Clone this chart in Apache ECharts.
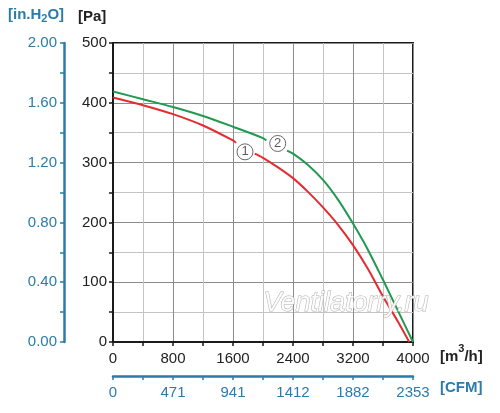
<!DOCTYPE html>
<html>
<head>
<meta charset="utf-8">
<script src="https://cdn.jsdelivr.net/npm/echarts@6.0.0/dist/echarts.min.js"></script>
<style>
html, body { margin: 0; padding: 0; background: #fff; }
#chart { width: 500px; height: 413px; }
</style>
</head>
<body>
<div id="chart"></div>
<script>
// curve 1 (red), split where the circled label sits
var flow1a = [0, 400, 800, 1200, 1600, 1640];
var pa1a = [409, 396, 381, 362, 337, 333];
var flow1b = [1890, 2000, 2200, 2400, 2600, 2800, 3000, 3200, 3400, 3600, 3800, 3950];
var pa1b = [315, 308, 292, 274, 251, 225, 196, 162, 122, 76, 34, 0];

// curve 2 (green)
var flow2a = [0, 400, 800, 1200, 1600, 2000, 2045];
var pa2a = [419, 406, 393, 378, 360, 341, 337];
var flow2b = [2320, 2400, 2600, 2800, 3000, 3200, 3400, 3600, 3800, 4000];
var pa2b = [320, 315, 296, 271, 238, 198, 154, 104, 52, 0];

// curve labels
var tagNames = ['1', '2'];
var tagFlow = [1760, 2196];
var tagPa = [318, 332];

// secondary scales
var cfmMax = 2353;
var inh2oMax = 2.0;

var blue = '#2b7bab';
var font = 'Liberation Sans, Arial, sans-serif';

function pairs(xs, ys) {
	var out = [];
	for (var i = 0; i < xs.length; i++) out.push([xs[i], ys[i]]);
	return out;
}

var chart = echarts.init(document.getElementById('chart'));

var lineStyleRed = { color: '#e52b2f', width: 2 };
var lineStyleGreen = { color: '#1f9a4e', width: 2 };

var option = {
	animation: false,
	textStyle: { fontFamily: font },
	grid: {
		left: 113, right: 87, top: 43, bottom: 71,
		show: true, borderColor: '#1a1a1a', borderWidth: 2
	},
	xAxis: [{
		type: 'value', position: 'bottom', min: 0, max: 4000, interval: 800,
		axisLine: { onZero: false, lineStyle: { color: '#1a1a1a', width: 2 } },
		axisTick: { show: true, length: 4, lineStyle: { color: '#1a1a1a', width: 1.5 } },
		minorTick: { show: true, splitNumber: 2, length: 4, lineStyle: { color: '#1a1a1a', width: 1.5 } },
		axisLabel: {
			color: '#222', fontSize: 15, margin: 9, fontFamily: font,
			formatter: function (v) { return String(v); }
		},
		splitLine: { show: true, lineStyle: { color: '#8c8c8c', width: 1 } },
		minorSplitLine: { show: true, lineStyle: { color: '#c4c4c4', width: 1 } }
	}, {
		type: 'value', position: 'bottom', offset: 34, min: 0, max: cfmMax, interval: cfmMax / 5,
		axisLine: { onZero: false, lineStyle: { color: blue, width: 2.5 } },
		axisTick: { show: true, length: 4, lineStyle: { color: blue, width: 1.5 } },
		minorTick: { show: true, splitNumber: 2, length: 4, lineStyle: { color: blue, width: 1.5 } },
		axisLabel: {
			color: blue, fontSize: 15, margin: 9, fontFamily: font,
			formatter: function (v) { return String(Math.round(v)); }
		},
		splitLine: { show: false }
	}],
	yAxis: [{
		type: 'value', position: 'left', min: 0, max: 500, interval: 100,
		axisLine: { show: true, onZero: false, lineStyle: { color: '#1a1a1a', width: 2 } },
		axisTick: { show: true, length: 4, lineStyle: { color: '#1a1a1a', width: 1.5 } },
		minorTick: { show: true, splitNumber: 2, length: 4, lineStyle: { color: '#1a1a1a', width: 1.5 } },
		axisLabel: { color: '#222', fontSize: 15, margin: 6, fontFamily: font },
		splitLine: { show: true, lineStyle: { color: '#8c8c8c', width: 1 } },
		minorSplitLine: { show: true, lineStyle: { color: '#c4c4c4', width: 1 } }
	}, {
		type: 'value', position: 'left', offset: 49, min: 0, max: inh2oMax, interval: 0.4,
		axisLine: { show: true, onZero: false, lineStyle: { color: blue, width: 2.5 } },
		axisTick: { show: true, length: 4, lineStyle: { color: blue, width: 1.5 } },
		minorTick: { show: true, splitNumber: 2, length: 4, lineStyle: { color: blue, width: 1.5 } },
		axisLabel: {
			color: blue, fontSize: 15, margin: 7, fontFamily: font,
			formatter: function (v) { return v.toFixed(2); }
		},
		splitLine: { show: false }
	}],
	series: [
		{ type: 'line', data: pairs(flow1a, pa1a), symbol: 'none', smooth: 0.3, lineStyle: lineStyleRed, z: 3 },
		{ type: 'line', data: pairs(flow1b, pa1b), symbol: 'none', smooth: 0.3, lineStyle: lineStyleRed, z: 3 },
		{ type: 'line', data: pairs(flow2a, pa2a), symbol: 'none', smooth: 0.3, lineStyle: lineStyleGreen, z: 3 },
		{ type: 'line', data: pairs(flow2b, pa2b), symbol: 'none', smooth: 0.3, lineStyle: lineStyleGreen, z: 3 },
		{
			type: 'scatter', z: 5,
			data: tagNames.map(function (n, i) { return { name: n, value: [tagFlow[i], tagPa[i]] }; }),
			symbol: 'circle', symbolSize: 16,
			itemStyle: { color: '#fff', borderColor: '#444', borderWidth: 1 },
			label: {
				show: true, position: 'inside', formatter: '{b}',
				color: '#333', fontSize: 13, fontFamily: font
			}
		}
	],
	graphic: [
		{
			type: 'text', left: 8, top: 7,
			style: {
				text: '{a|[in.H}{s|2}{a|O]}',
				rich: {
					a: { fontSize: 15, fontWeight: 'bold', fill: blue, fontFamily: font },
					s: { fontSize: 11, fontWeight: 'bold', fill: blue, fontFamily: font, padding: [9, 0, 0, 0] }
				}
			}
		},
		{
			type: 'text', left: 78, top: 9,
			style: { text: '[Pa]', fontSize: 15, fontWeight: 'bold', fill: '#222', fontFamily: font }
		},
		{
			type: 'text', left: 440, top: 343,
			style: {
				text: '{a|[m}{s|3}{a|/h]}',
				rich: {
					a: { fontSize: 15, fontWeight: 'bold', fill: '#222', fontFamily: font, padding: [8, 0, 0, 0] },
					s: { fontSize: 11, fontWeight: 'bold', fill: '#222', fontFamily: font, padding: [0, 0, 8, 0] }
				}
			}
		},
		{
			type: 'text', left: 440, top: 380,
			style: { text: '[CFM]', fontSize: 15, fontWeight: 'bold', fill: blue, fontFamily: font }
		},
		{
			type: 'text', left: 263, top: 289, z: 10,
			style: {
				text: 'Ventilatorry.ru', fontSize: 27, fontStyle: 'italic', fontFamily: font,
				fill: 'rgba(255,255,255,0.9)', stroke: '#b0b0b0', lineWidth: 1
			}
		}
	]
};

chart.setOption(option);
</script>
</body>
</html>
